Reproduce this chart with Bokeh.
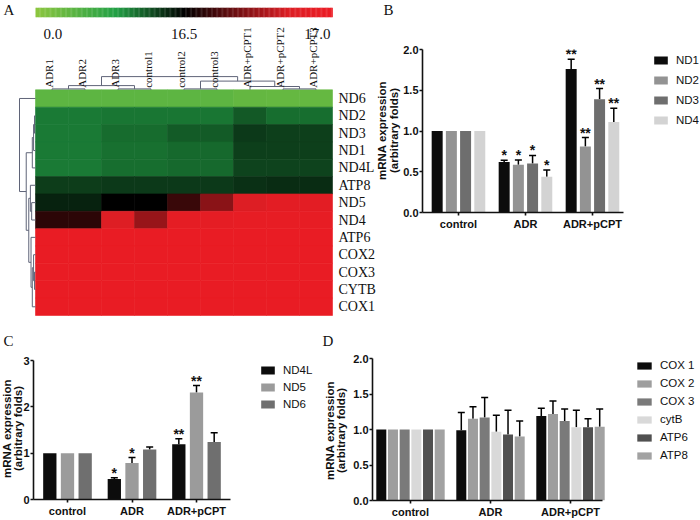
import numpy as np
from jinja2 import Template
from bokeh.plotting import figure
from bokeh.models import (Range1d, FixedTicker, PrintfTickFormatter, ColumnDataSource,
                          Whisker, TeeHead, Legend, LegendItem, LabelSet)
from bokeh.core.properties import value
from bokeh.embed import file_html
from bokeh.resources import INLINE

# ---------------- data: panel A (heatmap) ----------------
hm_cols = ["ADR1", "ADR2", "ADR3", "control1", "control2", "control3",
           "ADR+pCPT1", "ADR+pCPT2", "ADR+pCPT3"]
hm_rows = ["ND6", "ND2", "ND3", "ND1", "ND4L", "ATP8", "ND5", "ND4",
           "ATP6", "COX2", "COX3", "CYTB", "COX1"]
hm_values = [
    [4.0, 4.0, 4.0, 4.0, 4.0, 4.0, 3.4, 3.3, 3.3],              # ND6
    [10.7, 10.7, 10.9, 10.9, 10.9, 10.9, 12.3, 11.3, 11.3],     # ND2
    [10.7, 10.7, 11.4, 11.4, 12.2, 12.2, 13.8, 13.5, 13.5],     # ND3
    [10.7, 10.7, 11.2, 11.2, 11.5, 11.5, 13.5, 13.5, 13.5],     # ND1
    [10.7, 10.7, 11.3, 11.3, 11.5, 11.5, 13.3, 13.3, 13.3],     # ND4L
    [13.6, 13.6, 13.8, 13.8, 13.8, 13.8, 14.2, 14.4, 14.4],     # ATP8
    [14.9, 14.9, 16.5, 16.5, 16.59, 16.72, 16.86, 16.92, 16.92],  # ND5
    [16.57, 16.57, 16.87, 16.74, 16.93, 16.93, 16.95, 16.95, 16.95],  # ND4
    [16.97, 16.97, 16.97, 16.97, 16.97, 16.97, 16.97, 16.97, 16.97],  # ATP6
    [16.97, 16.97, 16.97, 16.97, 16.97, 16.97, 16.97, 16.97, 16.97],  # COX2
    [16.97, 16.97, 16.97, 16.97, 16.97, 16.97, 16.97, 16.97, 16.97],  # COX3
    [16.97, 16.97, 16.97, 16.97, 16.97, 16.97, 16.97, 16.97, 16.97],  # CYTB
    [16.97, 16.97, 16.97, 16.97, 16.97, 16.97, 16.97, 16.97, 16.97],  # COX1
]
cbar_ticks = [0.0, 16.5, 17.0]
cbar_labels = ["0.0", "16.5", "17.0"]
panel_letters = ["A", "B", "C", "D"]
y_title = ["mRNA expression", "(arbitrary folds)"]
# dendrogram merges: (child_a, child_b, height)
col_links = [(0, 1, 0.3), (2, 3, 0.3), (9, 10, 1.4), (4, 5, 0.3), (7, 8, 0.3),
             (6, 13, 1.1), (12, 14, 2.9), (11, 15, 4.4)]
row_links = [(1, 2, 0.3), (13, 3, 0.6), (14, 4, 1.0), (6, 7, 1.2), (5, 16, 1.6),
             (10, 11, 0.3), (9, 18, 0.6), (19, 12, 1.0), (8, 20, 1.4), (17, 21, 2.1),
             (15, 22, 2.9), (0, 23, 5.0)]

# ---------------- data: bar panels ----------------
groups = ["control", "ADR", "ADR+pCPT"]

b_genes = ["ND1", "ND2", "ND3", "ND4"]
b_mean = [[1.0, 0.62, 1.76], [1.0, 0.585, 0.81], [1.0, 0.60, 1.39], [1.0, 0.44, 1.11]]
b_err = [[0.0, 0.02, 0.12], [0.0, 0.06, 0.11], [0.0, 0.10, 0.13], [0.0, 0.08, 0.17]]
b_sig = [["", "*", "**"], ["", "*", "**"], ["", "*", "**"], ["", "*", "**"]]

c_genes = ["ND4L", "ND5", "ND6"]
c_mean = [[1.0, 0.44, 1.19], [1.0, 0.79, 2.31], [1.0, 1.08, 1.24]]
c_err = [[0.0, 0.03, 0.12], [0.0, 0.115, 0.15], [0.0, 0.055, 0.20]]
c_sig = [["", "*", "**"], ["", "*", "**"], ["", "", ""]]

d_genes = ["COX 1", "COX 2", "COX 3", "cytB", "ATP6", "ATP8"]
d_mean = [[1.0, 0.99, 1.19], [1.0, 1.15, 1.22], [1.0, 1.17, 1.12],
          [1.0, 0.97, 1.03], [1.0, 0.93, 1.03], [1.0, 0.90, 1.04]]
d_err = [[0.0, 0.25, 0.11], [0.0, 0.17, 0.18], [0.0, 0.28, 0.17],
         [0.0, 0.23, 0.24], [0.0, 0.34, 0.12], [0.0, 0.22, 0.25]]
d_sig = [["", "", ""]] * 6

# ---------------- styles ----------------
SANS = "Liberation Sans"
SERIF = "Liberation Serif"
INK = "#111111"
DENDRO = "#5f6478"
B_COLORS = ["#0c0c0c", "#939393", "#6e6e6e", "#d3d3d3"]
C_COLORS = ["#0c0c0c", "#9b9b9b", "#6f6f6f"]
D_COLORS = ["#0c0c0c", "#9e9e9e", "#7a7a7a", "#d9d9d9", "#505050", "#a2a2a2"]
STOPS = [(0.0, (0x8D, 0xC6, 0x3F)), (0.27, (0x22, 0xA0, 0x45)), (0.5, (0, 0, 0)),
         (0.85, (0xDC, 0x1E, 0x24)), (1.0, (0xEC, 0x1C, 0x24))]
# page positions (px) of the two y-title lines and their vertical centre, panels B, C, D
TITLE_POS = [(381, 393, 130), (6, 17, 428), (329, 340, 430)]


def grad(t):
    t = min(max(t, 0.0), 1.0)
    for (t0, c0), (t1, c1) in zip(STOPS[:-1], STOPS[1:]):
        if t <= t1:
            f = (t - t0) / (t1 - t0)
            c = [int(round(a + (b - a) * f)) for a, b in zip(c0, c1)]
            return "#%02x%02x%02x" % tuple(c)
    return "#%02x%02x%02x" % STOPS[-1][1]


def to_t(v):
    lo, mid, hi = cbar_ticks
    if v <= mid:
        return 0.5 * (v - lo) / (mid - lo)
    return 0.5 + 0.5 * (v - mid) / (hi - mid)


# ---------------- base figure: heatmap (A) + panel letters ----------------
PW, PH = 700, 520
CW, RH = 33.0, 17.36
HX0, HY0 = 35.0, 89.3


def ux(px):
    return -0.5 + (px - HX0) / CW


def uy(py):
    return -0.5 + (py - HY0) / RH


pA = figure(width=PW, height=PH, x_range=Range1d(ux(0), ux(PW)), y_range=Range1d(uy(PH), uy(0)),
            output_backend="svg", toolbar_location=None, x_axis_location=None,
            y_axis_location=None, min_border=0)
pA.outline_line_color = None
pA.xgrid.visible = False
pA.ygrid.visible = False

nr, nc = len(hm_rows), len(hm_cols)
cx = [c for r in range(nr) for c in range(nc)]
cy = [r for r in range(nr) for c in range(nc)]
cc = [grad(to_t(hm_values[r][c])) for r in range(nr) for c in range(nc)]
pA.rect(x=cx, y=cy, width=1.0, height=1.0, fill_color=cc, line_color=cc, line_width=0.6)

# colour bar
N = 240
left = [-0.5 + nc * k / N for k in range(N)]
right = [-0.5 + nc * (k + 1) / N + 0.01 for k in range(N)]
bcol = [grad((k + 0.5) / N) for k in range(N)]
pA.quad(left=left, right=right, top=uy(7.3), bottom=uy(16.7), fill_color=bcol, line_color=None)
pA.text(x=[-0.5 + nc * to_t(v) for v in cbar_ticks], y=uy(33), text=cbar_labels,
        text_align=["left", "center", "right"], x_offset=[8, 0, -2],
        text_baseline="alphabetic", text_font=value(SERIF), text_font_size="15px",
        text_color=INK)
pA.text(x=[ux(3), ux(383), ux(3), ux(322)], y=[uy(1), uy(1), uy(332), uy(332)],
        text=panel_letters, text_align="left", text_baseline="top",
        text_font=value(SERIF), text_font_size="15px", text_color=INK)

# y-axis titles of panels B, C, D (two lines each)
tx, ty, tt = [], [], []
for x1, x2, yc in TITLE_POS:
    tx += [ux(x1), ux(x2)]
    ty += [uy(yc), uy(yc)]
    tt += y_title
pA.text(x=tx, y=ty, text=tt, angle=np.pi / 2, text_align="center", text_baseline="middle",
        text_font=value(SANS), text_font_size="11.5px", text_font_style="bold", text_color=INK)


def dendro(links, n):
    pos = list(range(n))
    hgt = [0.0] * n
    segs = []
    for a, b, h in links:
        segs.append(([pos[a], pos[a], pos[b], pos[b]], [hgt[a], h, h, hgt[b]]))
        pos.append((pos[a] + pos[b]) / 2.0)
        hgt.append(h)
    return segs


csegs = dendro(col_links, nc)
pA.multi_line(xs=[s[0] for s in csegs],
              ys=[[-0.5 - h * 3.0 / RH for h in s[1]] for s in csegs],
              line_color=DENDRO, line_width=1)
rsegs = dendro(row_links, nr)
pA.multi_line(xs=[[-0.5 - h * 3.2 / CW for h in s[1]] for s in rsegs],
              ys=[s[0] for s in rsegs], line_color=DENDRO, line_width=1)

pA.text(x=[c - 0.08 for c in range(nc)], y=-0.5 - 2.0 / RH, text=hm_cols, angle=np.pi / 2,
        text_align="left", text_baseline="middle", text_font=value(SERIF),
        text_font_size="11px", text_color=INK)
pA.text(x=ux(338), y=list(range(nr)), text=hm_rows, text_align="left", text_baseline="middle",
        text_font=value(SERIF), text_font_size="14px", text_color=INK)


# ---------------- bar panels ----------------
def bar_panel(width, height, genes, means, errs, sigs, colors, ymax, yticks, yfmt,
              xr, data_px, step, bar_w, borders, leg_xy, leg_gw, leg_gh, leg_sp):
    full_px = width - borders[0] - borders[1]
    x_end = xr[0] + (xr[1] - xr[0]) * full_px / data_px
    p = figure(width=width, height=height, x_range=Range1d(xr[0], x_end),
               y_range=Range1d(0, ymax),
               output_backend="svg", toolbar_location=None,
               min_border_left=borders[0], min_border_right=borders[1],
               min_border_top=borders[2], min_border_bottom=borders[3])
    p.outline_line_color = None
    p.background_fill_alpha = 0
    p.border_fill_alpha = 0
    p.xgrid.visible = False
    p.ygrid.visible = False
    n = len(genes)
    items = []
    for i, g in enumerate(genes):
        xs = [k + (i - (n - 1) / 2.0) * step for k in range(len(groups))]
        src = ColumnDataSource(dict(x=xs, top=means[i]))
        r = p.vbar(x="x", top="top", width=bar_w, source=src, fill_color=colors[i],
                   line_color=None)
        items.append(LegendItem(label=g, renderers=[r]))
        keep = [k for k in range(len(groups)) if errs[i][k] > 0]
        esrc = ColumnDataSource(dict(x=[xs[k] for k in keep],
                                     lo=[means[i][k] for k in keep],
                                     hi=[means[i][k] + errs[i][k] for k in keep]))
        p.add_layout(Whisker(source=esrc, base="x", lower="lo", upper="hi",
                             dimension="height", line_color="black", line_width=1.5,
                             lower_head=None,
                             upper_head=TeeHead(size=7, line_color="black", line_width=1.5)))
        sk = [k for k in range(len(groups)) if sigs[i][k]]
        if sk:
            ssrc = ColumnDataSource(dict(x=[xs[k] for k in sk],
                                         y=[means[i][k] + errs[i][k] for k in sk],
                                         s=[sigs[i][k] for k in sk]))
            p.add_layout(LabelSet(x="x", y="y", text="s", source=ssrc, text_align="center",
                                  text_baseline="alphabetic", text_font=value(SANS),
                                  text_font_size="14px", text_font_style="bold",
                                  text_color=INK))
    p.xaxis.ticker = FixedTicker(ticks=list(range(len(groups))))
    p.xaxis.major_label_overrides = {k: g for k, g in enumerate(groups)}
    p.xaxis.bounds = (xr[0], xr[1])
    p.yaxis.ticker = FixedTicker(ticks=yticks)
    p.yaxis.formatter = PrintfTickFormatter(format=yfmt)
    for ax in p.xaxis + p.yaxis:
        ax.axis_line_width = 1.6
        ax.axis_line_color = INK
        ax.major_tick_line_width = 1.6
        ax.major_tick_line_color = INK
        ax.major_tick_in = 0
        ax.major_tick_out = 3
        ax.minor_tick_line_color = None
        ax.major_label_text_font = SANS
        ax.major_label_text_font_size = "11px"
        ax.major_label_text_font_style = "bold"
        ax.major_label_text_color = INK
        ax.major_label_standoff = 2
    p.yaxis.major_label_standoff = 1
    leg = Legend(items=items, location=leg_xy, orientation="vertical",
                 glyph_width=leg_gw, glyph_height=leg_gh, label_height=14,
                 label_text_font=SANS, label_text_font_size="11.5px",
                 label_text_color=INK, label_standoff=7, spacing=leg_sp,
                 padding=0, margin=0, border_line_color=None, background_fill_alpha=0)
    p.add_layout(leg)
    return p


pB = bar_panel(326, 318, b_genes, b_mean, b_err, b_sig, B_COLORS, 2.0,
               [0.0, 0.5, 1.0, 1.5, 2.0], "%.1f", (-0.537, 2.463), 201, 0.212, 0.164,
               (48, 0, 49, 106), (230, 85), 17, 10, 6)
pC = bar_panel(322, 202, c_genes, c_mean, c_err, c_sig, C_COLORS, 3.0,
               [0, 1, 2, 3], "%d", (-0.527, 2.527), 197, 0.274, 0.206,
               (33, 0, 42, 21), (226, 88), 17, 10, 3)
pD = bar_panel(378, 202, d_genes, d_mean, d_err, d_sig, D_COLORS, 2.0,
               [0.0, 0.5, 1.0, 1.5, 2.0], "%.1f", (-0.475, 2.4), 230, 0.146, 0.125,
               (50, 0, 40, 18), (263, 38), 18, 9, 4)

PAGE = Template("""{% from macros import embed %}
<!DOCTYPE html>
<html lang="en">
<head>
<meta charset="utf-8">
<title>mRNA expression</title>
<style>
html, body { margin: 0; padding: 0; overflow: hidden; background: #ffffff; }
.cell { position: absolute; }
</style>
{{ bokeh_css | indent(4) if bokeh_css }}
{{ bokeh_js | indent(4) if bokeh_js }}
</head>
<body>
<div class="cell" style="left:0px; top:0px;">{{ embed(roots[0]) }}</div>
<div class="cell" style="left:374px; top:0px;">{{ embed(roots[1]) }}</div>
<div class="cell" style="left:0px; top:318px;">{{ embed(roots[2]) }}</div>
<div class="cell" style="left:322px; top:318px;">{{ embed(roots[3]) }}</div>
{{ plot_script | indent(4) }}
</body>
</html>
""")

open("out.html", "w").write(file_html([pA, pB, pC, pD], INLINE, template=PAGE))
